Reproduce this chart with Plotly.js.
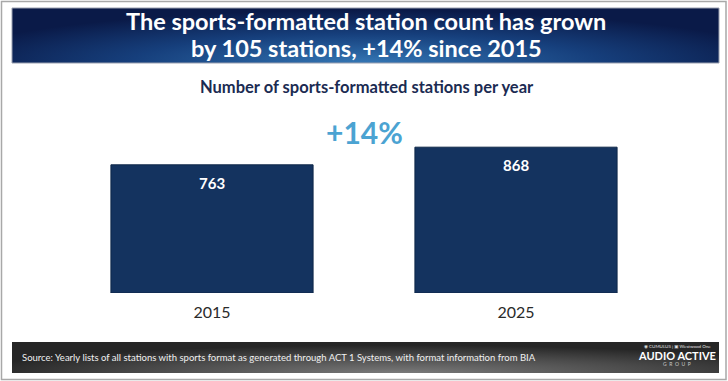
<!DOCTYPE html>
<html>
<head>
<meta charset="utf-8">
<script src="https://cdn.plot.ly/plotly-3.0.1.min.js"></script>
<style>html,body{margin:0;padding:0;background:#fff;}#chart{width:728px;height:381px;}</style>
</head>
<body>
<div id="chart"></div>
<script>
// ---- data ----
const years = ['2015', '2025'];
const stationCounts = [763, 868];
const growthLabel = '+14%';
const titleLines = ['The sports-formatted station count has grown', 'by 105 stations, +14% since 2015'];
const subtitleText = 'Number of sports-formatted stations per year';
const sourceText = 'Source: Yearly lists of all stations with sports format as generated through ACT 1 Systems, with format information from BIA';

// ---- geometry helpers (pixel -> paper) ----
const W = 728, H = 381;
const M = {l: 60, r: 60, t: 125, b: 88};
const PW = W - M.l - M.r, PH = H - M.t - M.b;
const X = px => (px - M.l) / PW;
const Y = py => (H - M.b - py) / PH;

const bannerSvg = 'data:image/svg+xml;utf8,' + encodeURIComponent(
  '<svg xmlns="http://www.w3.org/2000/svg" width="707" height="55" preserveAspectRatio="none">' +
  '<defs><radialGradient id="g" cx="0.5" cy="1.0" r="0.6" gradientTransform="translate(0.5 1) scale(1 1.6) translate(-0.5 -1)">' +
  '<stop offset="0" stop-color="#3476b4"/><stop offset="0.55" stop-color="#163f7c"/><stop offset="1" stop-color="#0a1a48"/></radialGradient></defs>' +
  '<rect width="707" height="55" fill="url(#g)"/></svg>');
const footerSvg = 'data:image/svg+xml;utf8,' + encodeURIComponent(
  '<svg xmlns="http://www.w3.org/2000/svg" width="707" height="32" preserveAspectRatio="none">' +
  '<defs><radialGradient id="f" cx="0.55" cy="1.0" r="0.6" gradientTransform="translate(0.55 1) scale(1 1.5) translate(-0.55 -1)">' +
  '<stop offset="0" stop-color="#7a7a7a"/><stop offset="0.6" stop-color="#4a4a4a"/><stop offset="1" stop-color="#262626"/></radialGradient></defs>' +
  '<rect width="707" height="32" fill="url(#f)"/></svg>');

const trace = {
  type: 'bar',
  x: years,
  y: stationCounts,
  marker: {color: '#14335f', line: {color: '#0e2748', width: 1}},
  hoverinfo: 'none'
};

const valueAnnotations = years.map((yr, i) => ({
  x: i, y: stationCounts[i], xref: 'x', yref: 'y',
  text: '<b>' + stationCounts[i] + '</b>', showarrow: false,
  yanchor: 'top', yshift: -7,
  font: {family: 'Lato, "DejaVu Sans", sans-serif', size: 15, color: '#ffffff'}
}));

const layout = {
  width: W, height: H,
  margin: M,
  paper_bgcolor: '#ffffff', plot_bgcolor: 'rgba(0,0,0,0)',
  showlegend: false,
  bargap: 0.335,
  xaxis: {
    type: 'category', range: [-0.5, 1.5], autorange: false,
    showgrid: false, zeroline: false, showline: false,
    ticks: '', ticklabelstandoff: 8,
    tickfont: {family: 'Lato, "DejaVu Sans", sans-serif', size: 16, color: '#2a2a2a'},
    fixedrange: true
  },
  yaxis: {range: [0, 1000], autorange: false, visible: false, fixedrange: true},
  images: [
    {source: bannerSvg, xref: 'paper', yref: 'paper', x: X(12), y: Y(8), sizex: X(719) - X(12), sizey: Y(8) - Y(63),
     xanchor: 'left', yanchor: 'top', sizing: 'stretch', layer: 'below'},
    {source: footerSvg, xref: 'paper', yref: 'paper', x: X(12), y: Y(342), sizex: X(719) - X(12), sizey: Y(342) - Y(373),
     xanchor: 'left', yanchor: 'top', sizing: 'stretch', layer: 'below'}
  ],
  shapes: [
    {type: 'rect', xref: 'paper', yref: 'paper', x0: X(1.5), x1: X(726), y0: Y(1.5), y1: Y(379.5),
     line: {color: '#a8a8a8', width: 1.5}, fillcolor: 'rgba(0,0,0,0)', layer: 'below'},
    {type: 'rect', xref: 'paper', yref: 'paper', x0: X(12), x1: X(719), y0: Y(8), y1: Y(63),
     line: {color: '#9aa0b0', width: 1}, fillcolor: 'rgba(0,0,0,0)', layer: 'above'}
  ],
  annotations: [
    {xref: 'paper', yref: 'paper', x: X(366), y: Y(21), text: titleLines[0], showarrow: false,
     xanchor: 'center', yanchor: 'middle', borderpad: 0,
     font: {family: 'Lato, "DejaVu Sans", sans-serif', size: 23.5, color: '#ffffff', weight: 700}},
    {xref: 'paper', yref: 'paper', x: X(366), y: Y(47.5), text: titleLines[1], showarrow: false,
     xanchor: 'center', yanchor: 'middle', borderpad: 0,
     font: {family: 'Lato, "DejaVu Sans", sans-serif', size: 23.5, color: '#ffffff', weight: 700}},
    {xref: 'paper', yref: 'paper', x: X(367), y: Y(87), text: '<b>' + subtitleText + '</b>', showarrow: false,
     xanchor: 'center', yanchor: 'middle',
     font: {family: 'Lato, "DejaVu Sans", sans-serif', size: 16.5, color: '#1b2b52'}},
    {xref: 'paper', yref: 'paper', x: X(364), y: Y(132), text: '<b>' + growthLabel + '</b>', showarrow: false,
     xanchor: 'center', yanchor: 'middle',
     font: {family: 'Lato, "DejaVu Sans", sans-serif', size: 30, color: '#4ba3d2'}},
    {xref: 'paper', yref: 'paper', x: X(20), y: Y(357), text: sourceText, showarrow: false,
     xanchor: 'left', yanchor: 'middle',
     font: {family: 'Lato, "DejaVu Sans", sans-serif', size: 9.5, color: '#f0f0f0'}},
    {xref: 'paper', yref: 'paper', x: X(677), y: Y(346), text: '◉ CUMULUS | ▣ Westwood One', showarrow: false,
     xanchor: 'center', yanchor: 'middle',
     font: {family: 'Lato, "DejaVu Sans", sans-serif', size: 4.5, color: '#e0e0e0'}},
    {xref: 'paper', yref: 'paper', x: X(677), y: Y(355), text: '<b>AUDIO ACTIVE</b>', showarrow: false,
     xanchor: 'center', yanchor: 'middle',
     font: {family: 'Lato, "DejaVu Sans", sans-serif', size: 11, color: '#ffffff'}},
    {xref: 'paper', yref: 'paper', x: X(677), y: Y(364), text: 'G  R  O  U  P', showarrow: false,
     xanchor: 'center', yanchor: 'middle',
     font: {family: 'Lato, "DejaVu Sans", sans-serif', size: 5, color: '#c8c8c8'}}
  ].concat(valueAnnotations)
};

Plotly.newPlot('chart', [trace], layout, {displayModeBar: false, staticPlot: true});
</script>
</body>
</html>
